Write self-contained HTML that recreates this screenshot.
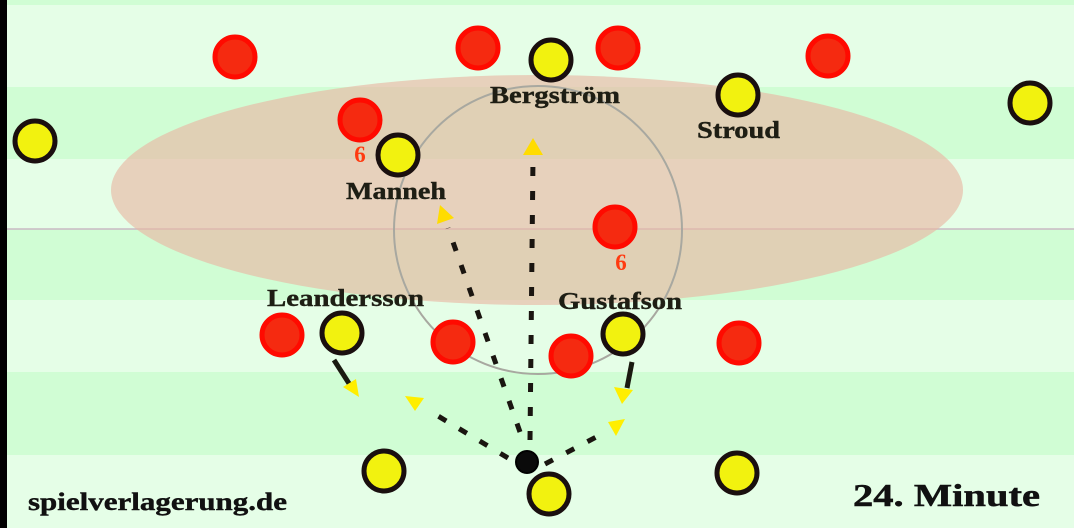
<!DOCTYPE html>
<html><head><style>body{margin:0}svg{display:block}</style></head><body>
<svg width="1074" height="528" xmlns="http://www.w3.org/2000/svg">
<rect width="1074" height="528" fill="#e5fee7"/>
<g fill="#d0fdd4">
<rect y="0" width="1074" height="5"/>
<rect y="87" width="1074" height="72"/>
<rect y="229" width="1074" height="71"/>
<rect y="372" width="1074" height="83"/>
</g>
<line x1="0" y1="229" x2="1074" y2="229" fill="none" stroke="#c9b8c4" stroke-width="1.5"/>
<rect x="0" y="0" width="7" height="528" fill="#000"/>
<ellipse cx="537" cy="190" rx="426" ry="115" fill="#e8b8a4" fill-opacity="0.65"/>
<circle cx="538" cy="230" r="144" fill="none" stroke="#a8a8a0" stroke-width="2"/>
<g fill="#f52a10" stroke="#ff0a00" stroke-width="5">
<circle cx="235" cy="57" r="20"/><circle cx="478" cy="48" r="20"/><circle cx="618" cy="48" r="20"/>
<circle cx="828" cy="56" r="20"/><circle cx="360" cy="120" r="20"/><circle cx="615" cy="227" r="20"/>
<circle cx="282" cy="335" r="20"/><circle cx="453" cy="342" r="20"/><circle cx="571" cy="356" r="20"/>
<circle cx="739" cy="343" r="20"/>
</g>
<g fill="none" stroke="#1a1510" stroke-width="5" stroke-dasharray="9,15">
<line x1="530" y1="440" x2="533" y2="158"/>
<line x1="520" y1="432" x2="448" y2="228"/>
<line x1="508" y1="458" x2="428" y2="410"/>
<line x1="545" y1="464" x2="600" y2="435"/>
</g>
<g stroke="#1a1a10" stroke-width="5">
<line x1="334" y1="360" x2="350" y2="385"/>
<line x1="632" y1="362" x2="627" y2="388"/>
</g>
<g fill="#ffdc00">
<polygon points="533,138 523,155 543,155"/>
<polygon points="440,205 437,224 454,218"/>
</g>
<g fill="#ffee00">
<polygon points="359,397 343,387 356,379"/>
<polygon points="405,396 424,398 415,411"/>
<polygon points="622,404 614,387 633,390"/>
<polygon points="625,419 608,422 616,436"/>
</g>
<g fill="#f2f20f" stroke="#1a0f0f" stroke-width="5">
<circle cx="35" cy="141" r="20"/><circle cx="551" cy="60" r="20"/><circle cx="738" cy="95" r="20"/>
<circle cx="1030" cy="103" r="20"/><circle cx="398" cy="155" r="20"/><circle cx="342" cy="333" r="20"/>
<circle cx="623" cy="334" r="20"/><circle cx="384" cy="471" r="20"/><circle cx="737" cy="473" r="20"/>
<circle cx="549" cy="494" r="20"/>
</g>
<circle cx="527" cy="462" r="11" fill="#0a0a0a" stroke="#000" stroke-width="2"/>
<g font-family="Liberation Serif, serif" font-weight="bold" font-size="24" fill="#1e1e14" stroke="#1e1e14" stroke-width="0.4">
<text x="490" y="103" textLength="130" lengthAdjust="spacingAndGlyphs">Bergström</text>
<text x="697" y="138" textLength="83" lengthAdjust="spacingAndGlyphs">Stroud</text>
<text x="346" y="199" textLength="100" lengthAdjust="spacingAndGlyphs">Manneh</text>
<text x="267" y="306" textLength="157" lengthAdjust="spacingAndGlyphs">Leandersson</text>
<text x="558" y="309" textLength="124" lengthAdjust="spacingAndGlyphs">Gustafson</text>
</g>
<g font-family="Liberation Serif, serif" font-weight="bold" font-size="23" fill="#ff3a10" text-anchor="middle">
<text x="360" y="162">6</text>
<text x="621" y="270">6</text>
</g>
<text x="28" y="510" font-family="Liberation Serif, serif" font-weight="bold" font-size="25" fill="#111" stroke="#111" stroke-width="0.4" textLength="259" lengthAdjust="spacingAndGlyphs">spielverlagerung.de</text>
<text x="853" y="506" font-family="Liberation Serif, serif" font-weight="bold" font-size="32" fill="#111" stroke="#111" stroke-width="0.5" textLength="187" lengthAdjust="spacingAndGlyphs">24. Minute</text>
</svg>
</body></html>
